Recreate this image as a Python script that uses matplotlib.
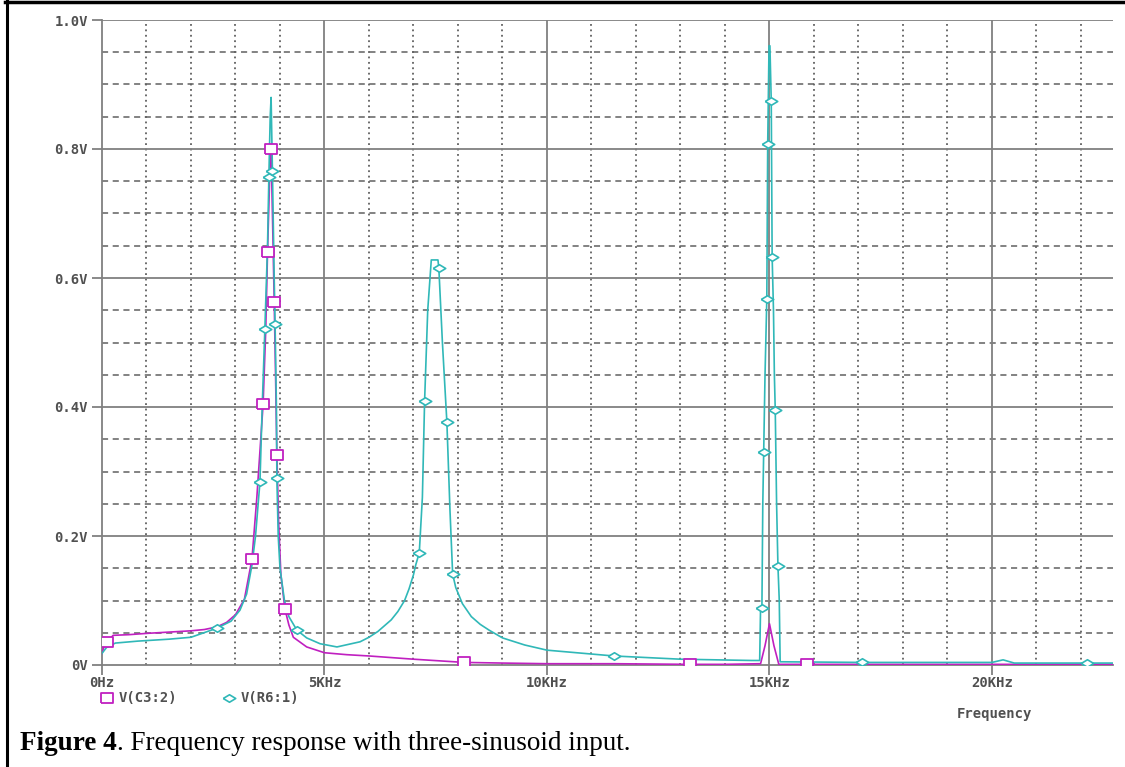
import numpy as np
import matplotlib
matplotlib.use('Agg')
import matplotlib.pyplot as plt
from matplotlib.lines import Line2D

# dados (frequencia em kHz, tensao em V)
c3_freq = [0.0, 0.05, 0.12, 0.25, 0.6, 1.0, 1.5, 2.0, 2.3, 2.58, 2.8, 3.0, 3.2, 3.37,
           3.48, 3.62, 3.68, 3.72, 3.77, 3.80, 3.83, 3.87, 3.90, 3.93, 3.97, 4.02,
           4.11, 4.2, 4.3, 4.6, 5.0, 5.5, 6.0, 7.0, 8.14, 9.0, 10.0, 11.5, 13.22,
           14.0, 14.8, 14.9, 15.0, 15.1, 15.21, 15.84, 17.0, 20.0, 22.72]
c3_volt = [0.018, 0.03, 0.036, 0.046, 0.047, 0.049, 0.051, 0.053, 0.055, 0.059, 0.066,
           0.078, 0.102, 0.164, 0.26, 0.404, 0.52, 0.64, 0.76, 0.80, 0.70, 0.563,
           0.45, 0.326, 0.22, 0.14, 0.087, 0.062, 0.043, 0.028, 0.019, 0.016, 0.014,
           0.009, 0.004, 0.003, 0.002, 0.002, 0.001, 0.001, 0.002, 0.03, 0.064, 0.03,
           0.001, 0.001, 0.001, 0.001, 0.001]

r6_freq = [0.0, 0.1, 0.3, 0.8, 1.5, 2.0, 2.58, 2.9, 3.1, 3.25, 3.37, 3.45, 3.55, 3.60,
           3.66, 3.72, 3.75, 3.78, 3.80, 3.83, 3.87, 3.89, 3.92, 3.93, 3.96, 4.0,
           4.1, 4.2, 4.38, 4.6, 4.9, 5.28, 5.8, 6.0, 6.2, 6.5, 6.65, 6.8, 6.9, 7.0,
           7.05, 7.13, 7.2, 7.25, 7.32, 7.40, 7.55, 7.57, 7.65, 7.75, 7.82, 7.88,
           7.95, 8.1, 8.3, 8.5, 8.7, 9.0, 9.5, 10.0, 11.5, 13.0, 14.6, 14.78, 14.80,
           14.83, 14.85, 14.87, 14.90, 14.94, 14.96, 14.99, 15.01, 15.04, 15.06,
           15.09, 15.11, 15.13, 15.16, 15.19, 15.22, 15.24, 17.08, 20.0, 20.25, 20.5,
           22.13, 22.72]
r6_volt = [0.018, 0.027, 0.034, 0.037, 0.040, 0.043, 0.057, 0.068, 0.085, 0.11, 0.155,
           0.20, 0.284, 0.40, 0.521, 0.65, 0.757, 0.85, 0.88, 0.766, 0.60, 0.528,
           0.40, 0.29, 0.20, 0.15, 0.10, 0.075, 0.054, 0.042, 0.033, 0.028, 0.036,
           0.043, 0.052, 0.07, 0.083, 0.10, 0.118, 0.14, 0.155, 0.174, 0.26, 0.41,
           0.55, 0.628, 0.628, 0.615, 0.50, 0.377, 0.24, 0.141, 0.12, 0.095, 0.075,
           0.063, 0.054, 0.042, 0.031, 0.023, 0.014, 0.009, 0.007, 0.007, 0.09,
           0.0885, 0.25, 0.33, 0.45, 0.567, 0.807, 0.96, 0.96, 0.874, 0.633, 0.55,
           0.45, 0.395, 0.25, 0.154, 0.10, 0.005, 0.004, 0.004, 0.008, 0.003, 0.003,
           0.003]

# posicoes dos marcadores do PSpice
c3_mark_f = [0.12, 3.37, 3.62, 3.72, 3.80, 3.87, 3.93, 4.11, 8.14, 13.22, 15.84]
c3_mark_v = [0.036, 0.164, 0.404, 0.64, 0.80, 0.563, 0.326, 0.087, 0.004, 0.001, 0.001]
r6_mark_f = [2.58, 3.55, 3.66, 3.75, 3.83, 3.89, 3.93, 4.38, 7.13, 7.25, 7.57, 7.75,
             7.88, 11.5, 14.83, 14.87, 14.94, 14.96, 15.04, 15.06, 15.13, 15.19,
             17.08, 22.13]
r6_mark_v = [0.057, 0.284, 0.521, 0.757, 0.766, 0.528, 0.29, 0.054, 0.174, 0.41,
             0.615, 0.377, 0.141, 0.014, 0.0885, 0.33, 0.567, 0.807, 0.874, 0.633,
             0.395, 0.154, 0.004, 0.003]

x_ticks = [0, 5, 10, 15, 20]
x_labels = ['0Hz', '5KHz', '10KHz', '15KHz', '20KHz']
y_ticks = [0.0, 0.2, 0.4, 0.6, 0.8, 1.0]
y_labels = ['0V', '0.2V', '0.4V', '0.6V', '0.8V', '1.0V']

MAG = '#c020c0'
CYA = '#30b8b8'
TXT = '#505050'
GRID = '#808080'
W, H = 1125, 767

sq = [(-1, -0.75), (1, -0.75), (1, 0.75), (-1, 0.75), (-1, -0.75)]
dia = [(-1, 0), (0, 0.6), (1, 0), (0, -0.6), (-1, 0)]

fig = plt.figure(figsize=(W / 100, H / 100), dpi=100)
ax = fig.add_axes([102 / W, 1 - 665 / H, (1113 - 102) / W, (665 - 20) / H])

ax.set_xlim(0, 22.72)
ax.set_ylim(0, 1.0)

# grade: tracejada/pontilhada nas divisoes menores, solida nas maiores
for f in range(1, 23):
    if f % 5:
        ax.axvline(f, color='#606060', lw=1.3, ls=(0, (1, 2)), zorder=1)
for v in np.arange(0.05, 1.0, 0.05):
    if round(v * 100) % 20:
        ax.axhline(v, color='#606060', lw=1.1, ls=(0, (4, 3)), zorder=1)
for f in x_ticks[1:]:
    ax.axvline(f, color=GRID, lw=1.3, zorder=1)
for v in y_ticks[1:]:
    ax.axhline(v, color=GRID, lw=1.3, zorder=1)

ax.plot(c3_freq, c3_volt, color=MAG, lw=1.2, zorder=3)
ax.plot(r6_freq, r6_volt, color=CYA, lw=1.2, zorder=4)
ax.plot(c3_mark_f, c3_mark_v, ls='none', marker=sq, ms=9, mfc='white',
        mec=MAG, mew=1.3, zorder=5)
ax.plot(r6_mark_f, r6_mark_v, ls='none', marker=dia, ms=9, mfc='white',
        mec=CYA, mew=1.2, zorder=5)

for s in ['top', 'right']:
    ax.spines[s].set_visible(False)
for s in ['left', 'bottom']:
    ax.spines[s].set_color(GRID)
    ax.spines[s].set_linewidth(1.3)

mono = dict(family='DejaVu Sans Mono', weight='bold', size=10, color=TXT)
ax.set_xticks(x_ticks)
ax.set_xticklabels(x_labels, fontdict=mono)
ax.set_yticks(y_ticks)
ax.set_yticklabels(y_labels, fontdict=mono)
ax.tick_params(axis='both', length=7, width=1.3, color=GRID, direction='out')
ax.tick_params(axis='x', pad=1)
ax.tick_params(axis='y', pad=3)

# legenda estilo PSpice
fig.add_artist(Line2D([107 / W], [1 - 698 / H], marker=sq, ms=9, mfc='white',
                      mec=MAG, mew=1.3))
fig.text(119 / W, 1 - 698 / H, 'V(C3:2)', va='center', ha='left', **mono)
fig.add_artist(Line2D([229 / W], [1 - 698 / H], marker=dia, ms=9, mfc='white',
                      mec=CYA, mew=1.2))
fig.text(241 / W, 1 - 698 / H, 'V(R6:1)', va='center', ha='left', **mono)
fig.text(994 / W, 1 - 714 / H, 'Frequency', va='center', ha='center', **mono)

# legenda da figura
t1 = fig.text(20 / W, 1 - 743 / H, 'Figure 4', va='center', ha='left',
              family='Liberation Serif', weight='bold', size=19.5, color='black')
fig.canvas.draw()
bb = t1.get_window_extent()
fig.text(bb.x1 / W, 1 - 743 / H, '. Frequency response with three-sinusoid input.',
         va='center', ha='left', family='Liberation Serif', size=19.5, color='black')

# moldura
fig.add_artist(Line2D([6.5 / W, 6.5 / W], [0, 1], color='black', lw=2.2))
fig.add_artist(Line2D([5 / W, 1], [1 - 1.5 / H, 1 - 1.5 / H], color='black', lw=2.5))

fig.savefig('out.png', dpi=100)
